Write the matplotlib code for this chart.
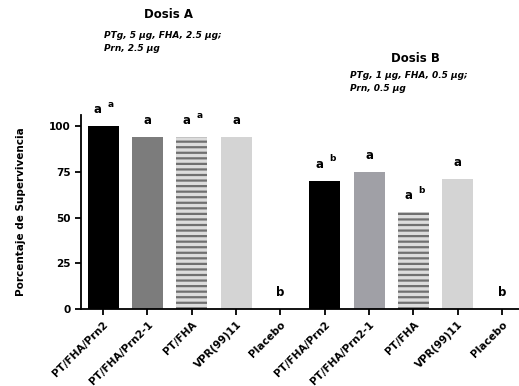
import matplotlib
matplotlib.use("Agg")
import matplotlib.pyplot as plt
import numpy as np

categories = ["PT/FHA/Prn2", "PT/FHA/Prn2-1", "PT/FHA", "VPR(99)11", "Placebo",
              "PT/FHA/Prn2", "PT/FHA/Prn2-1", "PT/FHA", "VPR(99)11", "Placebo"]
survival = [100, 94, 94, 94, 0, 70, 75, 53, 71, 0]
letters = ["a", "a", "a", "a", "b", "a", "a", "a", "a", "b"]
superscripts = ["a", "", "a", "", "", "b", "", "b", "", ""]

colors = ["#000000", "#7c7c7c", "#dcdcdc", "#d4d4d4", "#ffffff",
          "#000000", "#a0a0a6", "#dcdcdc", "#d4d4d4", "#ffffff"]
hatches = ["", "", "---", "", "", "", "", "---", "", ""]

plt.rcParams["font.family"] = ["DejaVu Sans"]
plt.rcParams["hatch.linewidth"] = 1.6

fig = plt.figure(figsize=(5.19, 3.86), dpi=100)
ax = fig.add_axes([0.156, 0.1995, 0.85, 0.5025])

x = np.arange(len(categories))
for xi, v, c, h in zip(x, survival, colors, hatches):
    ax.bar(xi, v, width=0.7, facecolor=c, hatch=h,
           edgecolor="#707070" if h else c, linewidth=0)

for xi, v, l, s in zip(x, survival, letters, superscripts):
    ax.text(xi - (0.12 if s else 0), v + 9, l, ha="center", va="center",
            fontsize=8.5, fontweight="bold")
    if s:
        ax.text(xi + 0.17, v + 12, s, ha="center", va="center",
                fontsize=6.5, fontweight="bold")

ax.set_xlim(-0.5, 9.45)
ax.set_ylim(0, 106)
ax.set_yticks([0, 25, 50, 75, 100])
ax.set_xticks(x)
ax.set_xticklabels(categories, rotation=45, ha="right", rotation_mode="anchor",
                   fontsize=7.5, fontweight="bold")
for lab in ax.get_yticklabels():
    lab.set_fontweight("bold")
    lab.set_fontsize(7.5)
ax.tick_params(axis="both", direction="out", length=4, width=1.3)
ax.spines["top"].set_visible(False)
ax.spines["right"].set_visible(False)
ax.spines["left"].set_linewidth(1.3)
ax.spines["bottom"].set_linewidth(1.3)
ax.set_ylabel("Porcentaje de Supervivencia", fontsize=7.5, fontweight="bold")
ax.yaxis.set_label_coords(-0.125, 0.5)

fig.text(168 / 519, 1 - 15 / 386, "Dosis A", ha="center", va="center",
         fontsize=8.5, fontweight="bold")
fig.text(104 / 519, 1 - 31 / 386, "PTg, 5 µg, FHA, 2.5 µg;\nPrn, 2.5 µg",
         ha="left", va="top", fontsize=6.5, fontweight="bold", style="italic",
         linespacing=1.6)
fig.text(415 / 519, 1 - 58 / 386, "Dosis B", ha="center", va="center",
         fontsize=8.5, fontweight="bold")
fig.text(350 / 519, 1 - 71 / 386, "PTg, 1 µg, FHA, 0.5 µg;\nPrn, 0.5 µg",
         ha="left", va="top", fontsize=6.5, fontweight="bold", style="italic",
         linespacing=1.6)

fig.savefig("out.png", dpi=100)
